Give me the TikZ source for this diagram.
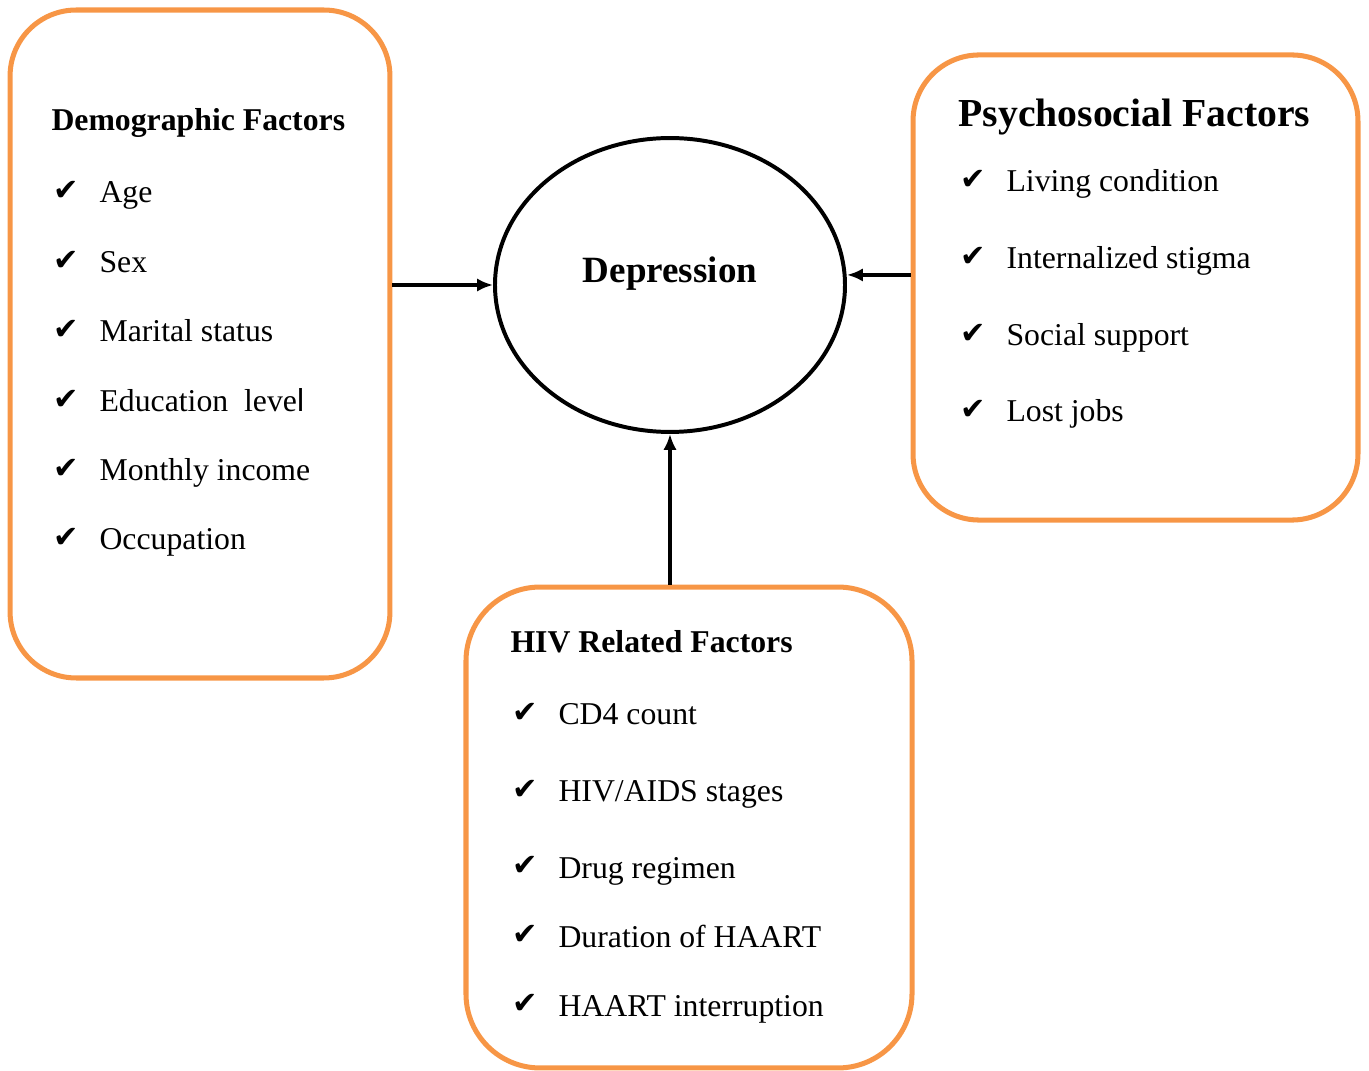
\documentclass[tikz,border=0pt]{standalone}
\usepackage{amsmath,amssymb}
\usepackage{fontspec}
\setmainfont{Liberation Serif}
\newfontfamily\sansl{Liberation Sans}
\newfontfamily\checkfont{DejaVu Sans}
\usetikzlibrary{shapes.geometric,arrows.meta}
\definecolor{boxorange}{HTML}{F79646}
\newcommand{\chk}{\makebox[17.4pt][l]{\raisebox{0.8pt}{\checkfont\fontsize{11.5}{13}\selectfont ✔}}}

\begin{document}
\begin{tikzpicture}[x=0.378pt,y=-0.378pt,
  factorbox/.style={draw=boxorange,line width=1.9pt,rounded corners=25pt},
  heading/.style={anchor=base west,inner sep=0pt,font=\bfseries\fontsize{12}{14}\selectfont},
  item/.style={anchor=base west,inner sep=0pt,font=\fontsize{12}{14}\selectfont},
  arr/.style={line width=1.4pt,-{Latex[length=6pt,width=5pt]}}]
  \useasboundingbox (0,0) rectangle (1369,1071);

  % the three boxes
  \node[factorbox,minimum width=143.6pt,minimum height=252.5pt] (demo) at (200,344) {};
  \node[factorbox,minimum width=168.2pt,minimum height=175.8pt] (psy) at (1135.5,287.5) {};
  \node[factorbox,minimum width=168.6pt,minimum height=181.8pt,rounded corners=28pt] (hiv) at (689,827.5) {};

  % outcome
  \node[draw,line width=1.5pt,ellipse,minimum width=132.3pt,minimum height=111.1pt] (dep) at (670,285) {};
  \node[anchor=base,font=\bfseries\fontsize{14}{17}\selectfont] (deptext) at (670,283) {Depression};

  % headings
  \node[heading] (demohead) at (51,131) {Demographic Factors};
  \node[heading,font=\bfseries\fontsize{15}{18}\selectfont] (psyhead) at (958,127) {Psychosocial Factors};
  \node[heading] (hivhead) at (510,653) {HIV Related Factors};

  % items
  \foreach \txt [count=\i] in {Age,Sex,Marital status,Education\ \ leve{\sansl l},Monthly income,Occupation}
    \node[item] (demo\i) at (53,{203+69.4*(\i-1)}) {\chk\txt};
  \foreach \y/\txt [count=\i] in {192/Living condition,269/Internalized stigma,346/Social support,422/Lost jobs}
    \node[item] (psy\i) at (960,\y) {\chk\txt};
  \foreach \y/\txt [count=\i] in {725/CD4 count,802/{HIV/AIDS stages},878/Drug regimen,947/Duration of HAART,1016/HAART interruption}
    \node[item] (hiv\i) at (512,\y) {\chk\txt};

  % arrows
  \draw[arr] (demo.east |- dep.west) -- (dep.west);
  \draw[arr] ([yshift=3.8pt]psy.west |- dep.east) -- ([yshift=3.8pt]dep.east);
  \draw[arr] (dep.south |- hiv.north) -- (dep.south);
\end{tikzpicture}
\end{document}
